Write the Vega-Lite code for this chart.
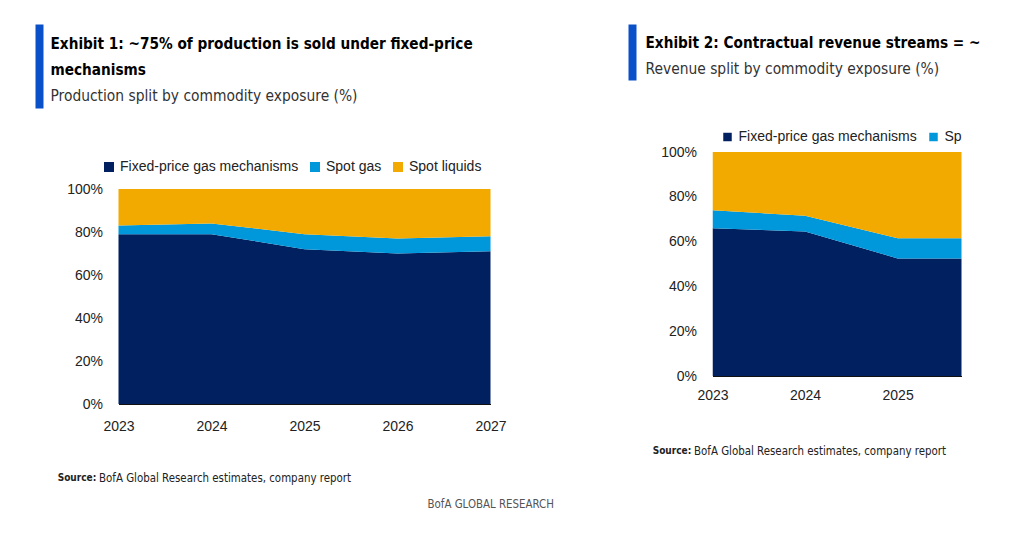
{
  "$schema": "https://vega.github.io/schema/vega-lite/v6.json",
  "background": "white",
  "padding": {"left": 38.5, "top": 22, "right": 0, "bottom": 0},
  "autosize": {"type": "pad"},
  "config": {
    "view": {"stroke": null},
    "font": "DejaVu Sans Condensed, sans-serif",
    "axis": {
      "labelFont": "Liberation Sans, Arial, sans-serif",
      "labelFontSize": 14,
      "labelColor": "#222222",
      "ticks": false,
      "tickSize": 0,
      "grid": false,
      "domain": false
    },
    "legend": {
      "labelFont": "Liberation Sans, Arial, sans-serif",
      "labelFontSize": 14,
      "labelColor": "#222222",
      "labelLimit": 400
    }
  },
  "datasets": {
    "production": [
      {"year": 2023, "series": "Fixed-price gas mechanisms", "value": 79},
      {"year": 2023, "series": "Spot gas", "value": 4},
      {"year": 2023, "series": "Spot liquids", "value": 17},
      {"year": 2024, "series": "Fixed-price gas mechanisms", "value": 79},
      {"year": 2024, "series": "Spot gas", "value": 5},
      {"year": 2024, "series": "Spot liquids", "value": 16},
      {"year": 2025, "series": "Fixed-price gas mechanisms", "value": 72},
      {"year": 2025, "series": "Spot gas", "value": 7},
      {"year": 2025, "series": "Spot liquids", "value": 21},
      {"year": 2026, "series": "Fixed-price gas mechanisms", "value": 70},
      {"year": 2026, "series": "Spot gas", "value": 7},
      {"year": 2026, "series": "Spot liquids", "value": 23},
      {"year": 2027, "series": "Fixed-price gas mechanisms", "value": 71},
      {"year": 2027, "series": "Spot gas", "value": 7},
      {"year": 2027, "series": "Spot liquids", "value": 22}
    ],
    "revenue": [
      {"year": 2023, "series": "Fixed-price gas mechanisms", "value": 66},
      {"year": 2023, "series": "Spot gas", "value": 8},
      {"year": 2023, "series": "Spot liquids", "value": 26},
      {"year": 2024, "series": "Fixed-price gas mechanisms", "value": 64.5},
      {"year": 2024, "series": "Spot gas", "value": 7},
      {"year": 2024, "series": "Spot liquids", "value": 28.5},
      {"year": 2025, "series": "Fixed-price gas mechanisms", "value": 52.5},
      {"year": 2025, "series": "Spot gas", "value": 9},
      {"year": 2025, "series": "Spot liquids", "value": 38.5},
      {"year": 2026, "series": "Fixed-price gas mechanisms", "value": 52.5},
      {"year": 2026, "series": "Spot gas", "value": 9},
      {"year": 2026, "series": "Spot liquids", "value": 38.5}
    ]
  },
  "title": {
    "text": "BofA GLOBAL RESEARCH",
    "orient": "bottom",
    "anchor": "start",
    "frame": "bounds",
    "dx": 388.5,
    "offset": 16,
    "fontSize": 11.4,
    "fontWeight": "normal",
    "color": "#555555"
  },
  "resolve": {"scale": {"color": "independent", "x": "independent", "y": "independent"}, "legend": {"color": "independent"}},
  "spacing": 125,
  "hconcat": [
    {
      "spacing": 52,
      "resolve": {"scale": {"color": "independent", "x": "independent", "y": "independent"}, "legend": {"color": "independent"}},
      "vconcat": [
        {
          "data": {"name": "production"},
          "width": 300,
          "height": 84,
          "mark": {"type": "point", "opacity": 0},
          "encoding": {
            "y": {
              "field": "value",
              "type": "quantitative",
              "axis": {"orient": "left", "offset": 79.5, "domain": true, "domainColor": "#0a50c8", "domainWidth": 8, "ticks": false, "labels": false, "title": null}
            }
          },
          "title": {
            "text": ["Exhibit 1: ~75% of production is sold under fixed-price", "mechanisms"],
            "subtitle": "Production split by commodity exposure (%)",
            "orient": "top",
            "anchor": "start",
            "frame": "bounds",
            "offset": -82.1,
            "dx": 11.5,
            "font": "DejaVu Sans Condensed, sans-serif",
            "fontSize": 15.2,
            "fontWeight": "bold",
            "lineHeight": 26,
            "color": "#000000",
            "subtitleFont": "DejaVu Sans Condensed, sans-serif",
            "subtitleFontSize": 15.4,
            "subtitleColor": "#333333",
            "subtitlePadding": 11
          }
        },
        {
          "data": {"name": "production"},
          "width": 372,
          "height": 215,
          "mark": {"type": "area"},
          "encoding": {
            "x": {
              "field": "year",
              "type": "quantitative",
              "scale": {"domain": [2023, 2027], "nice": false, "zero": false},
              "axis": {
                "values": [2023, 2024, 2025, 2026, 2027],
                "format": "d",
                "labelFlush": false,
                "labelPadding": 15,
                "domain": true,
                "domainColor": "#111111",
                "domainWidth": 1,
                "title": "BofA Global Research estimates, company report",
                "titleX": -20,
                "titleY": 77,
                "titleAlign": "left",
                "titleAnchor": "start",
                "titleBaseline": "alphabetic",
                "titleFont": "DejaVu Sans Condensed, sans-serif",
                "titleFontSize": 11.4,
                "titleFontWeight": "normal",
                "titleColor": "#222222"
              }
            },
            "y": {
              "field": "value",
              "type": "quantitative",
              "stack": "zero",
              "scale": {"domain": [0, 100], "nice": false},
              "axis": {"values": [0, 20, 40, 60, 80, 100], "labelExpr": "datum.value + '%'", "labelPadding": 16, "title": null}
            },
            "order": {"field": "series", "sort": "ascending"},
            "color": {
              "field": "series",
              "type": "nominal",
              "scale": {"domain": ["Fixed-price gas mechanisms", "Spot gas", "Spot liquids"], "range": ["#002060", "#0098DB", "#F2AA00"]},
              "legend": {
                "orient": "none",
                "legendX": -16.5,
                "legendY": -29,
                "direction": "horizontal",
                "title": null,
                "symbolType": "square",
                "symbolSize": 100,
                "symbolStrokeWidth": 0,
                "symbolOpacity": 1,
                "labelOffset": 4,
                "columnPadding": 9
              }
            }
          },
          "title": {
            "text": "Source:",
            "orient": "bottom",
            "anchor": "start",
            "frame": "bounds",
            "dx": -9,
            "offset": -10,
            "font": "DejaVu Sans Condensed, sans-serif",
            "fontSize": 10,
            "fontWeight": "bold",
            "color": "#222222"
          }
        }
      ]
    },
    {
      "spacing": 50,
      "resolve": {"scale": {"color": "independent", "x": "independent", "y": "independent"}, "legend": {"color": "independent"}},
      "vconcat": [
        {
          "data": {"name": "revenue"},
          "width": 200,
          "height": 56,
          "mark": {"type": "point", "opacity": 0},
          "encoding": {
            "y": {
              "field": "value",
              "type": "quantitative",
              "axis": {"orient": "left", "offset": 80.5, "domain": true, "domainColor": "#0a50c8", "domainWidth": 8, "ticks": false, "labels": false, "title": null}
            }
          },
          "title": {
            "text": "Exhibit 2: Contractual revenue streams = ~",
            "subtitle": "Revenue split by commodity exposure (%)",
            "orient": "top",
            "anchor": "start",
            "frame": "bounds",
            "offset": -53,
            "dx": 13.5,
            "font": "DejaVu Sans Condensed, sans-serif",
            "fontSize": 15.2,
            "fontWeight": "bold",
            "color": "#000000",
            "subtitleFont": "DejaVu Sans Condensed, sans-serif",
            "subtitleFontSize": 15.4,
            "subtitleColor": "#333333",
            "subtitlePadding": 10
          }
        },
        {
          "data": {"name": "revenue"},
          "width": 249,
          "height": 224,
          "mark": {"type": "area", "clip": true},
          "encoding": {
            "x": {
              "field": "year",
              "type": "quantitative",
              "scale": {"domain": [2023, 2025.69], "nice": false, "zero": false},
              "axis": {
                "values": [2023, 2024, 2025],
                "format": "d",
                "labelFlush": false,
                "labelPadding": 12,
                "domain": true,
                "domainColor": "#111111",
                "domainWidth": 1,
                "title": "BofA Global Research estimates, company report",
                "titleX": -19,
                "titleY": 78,
                "titleAlign": "left",
                "titleAnchor": "start",
                "titleBaseline": "alphabetic",
                "titleFont": "DejaVu Sans Condensed, sans-serif",
                "titleFontSize": 11.4,
                "titleFontWeight": "normal",
                "titleColor": "#222222"
              }
            },
            "y": {
              "field": "value",
              "type": "quantitative",
              "stack": "zero",
              "scale": {"domain": [0, 100], "nice": false},
              "axis": {"values": [0, 20, 40, 60, 80, 100], "labelExpr": "datum.value + '%'", "labelPadding": 16, "title": null}
            },
            "order": {"field": "series", "sort": "ascending"},
            "color": {
              "field": "series",
              "type": "nominal",
              "scale": {"domain": ["Fixed-price gas mechanisms", "Spot gas", "Spot liquids"], "range": ["#002060", "#0098DB", "#F2AA00"]},
              "legend": {
                "orient": "none",
                "legendX": 8,
                "legendY": -22,
                "direction": "horizontal",
                "title": null,
                "values": ["Fixed-price gas mechanisms", "Spot gas"],
                "labelExpr": "datum.label == 'Spot gas' ? 'Sp' : datum.label",
                "symbolType": "square",
                "symbolSize": 72,
                "symbolStrokeWidth": 0,
                "symbolOpacity": 1,
                "labelOffset": 4,
                "columnPadding": 9
              }
            }
          },
          "title": {
            "text": "Source:",
            "orient": "bottom",
            "anchor": "start",
            "frame": "bounds",
            "dx": -8,
            "offset": -10,
            "font": "DejaVu Sans Condensed, sans-serif",
            "fontSize": 10,
            "fontWeight": "bold",
            "color": "#222222"
          }
        }
      ]
    }
  ]
}
